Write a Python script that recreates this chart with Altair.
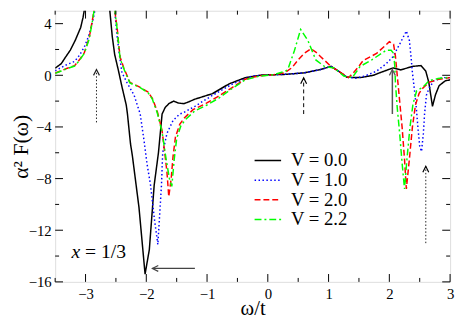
import altair as alt
import pandas as pd

series = ["V = 0.0", "V = 1.0", "V = 2.0", "V = 2.2"]
colors = ["#000000", "#0000ff", "#ff0000", "#00ff00"]
dashes = [[1, 0], [1.5, 2.5], [6, 3], [7, 3, 2, 3]]

# V = 0.0 (black, solid)
w_v00 = [-3.5, -3.4, -3.33, -3.25, -3.17, -3.08, -3.04, -3.0, -2.96,
         -2.64, -2.6, -2.56, -2.52, -2.46, -2.4, -2.37, -2.33, -2.31, -2.26, -2.23, -2.12, -2.02,
         -1.95, -1.87, -1.8, -1.77, -1.74, -1.69, -1.63, -1.55, -1.47, -1.38, -1.3, -1.2,
         -0.91, -0.64, -0.37, -0.1, 0.28, 0.6, 0.87, 1.04, 1.14, 1.3, 1.52, 1.74, 1.84,
         2.06, 2.19, 2.38, 2.52, 2.6, 2.65, 2.71, 2.76, 2.82, 2.92, 3.0]
f_v00 = [0.55, 0.9, 1.4, 1.95, 2.7, 3.7, 4.5, 5.6, 7.0,
         7.0, 5.0, 3.0, 1.6, 0.4, -0.9, -1.5, -2.3, -3.0, -5.3, -6.2, -10.25, -15.4,
         -13.5, -8.5, -6.0, -4.5, -3.0, -2.5, -2.2, -2.0, -2.15, -2.2, -2.05, -1.85,
         -1.42, -0.67, -0.18, 0.02, 0.07, 0.19, 0.45, 0.69, 0.4, -0.15, -0.18, 0.0, 0.19,
         0.57, 0.42, 0.69, 0.75, 0.32, -0.55, -2.4, -1.5, -0.8, -0.43, -0.35]

# V = 1.0 (blue, dotted)
w_v10 = [-3.5, -3.4, -3.3, -3.18, -3.1, -3.02, -2.96, -2.91, -2.86, -2.83, -2.8,
         -2.56, -2.52, -2.48, -2.44, -2.4, -2.32, -2.2, -2.1, -2.03, -1.99, -1.93, -1.87, -1.81,
         -1.75, -1.73, -1.66, -1.56, -1.45, -1.39, -1.2, -0.91, -0.58, -0.26, 0.0, 0.28, 0.6,
         0.87, 1.04, 1.14, 1.3, 1.45, 1.6, 1.79, 1.95, 2.06, 2.18, 2.28, 2.33, 2.36, 2.38, 2.41,
         2.44, 2.47, 2.5, 2.53, 2.56, 2.58, 2.61, 2.65, 2.73, 2.88, 3.0]
f_v10 = [0.35, 0.6, 0.85, 1.07, 1.55, 2.19, 2.9, 3.68, 4.67, 5.5, 7.0,
         7.0, 5.0, 3.0, 1.5, 0.2, -0.55, -1.55, -3.0, -5.3, -6.8, -8.5, -11.0, -13.1,
         -8.5, -6.0, -4.5, -3.5, -3.0, -2.9, -2.4, -1.55, -0.67, -0.05, 0.02, 0.07, 0.19,
         0.45, 0.69, 0.4, -0.15, -0.22, -0.05, 0.32, 0.9, 1.44, 2.5, 3.43, 2.69, 1.3, 0.2, -1.0,
         -2.3, -4.0, -5.5, -5.9, -4.5, -3.0, -1.55, -1.05, -0.43, -0.18, -0.18]

# V = 2.0 (red, dashed)
w_v20 = [-3.5, -3.4, -3.3, -3.18, -3.1, -3.02, -2.94, -2.89, -2.86, -2.83,
         -2.53, -2.51, -2.48, -2.45, -2.43, -2.37, -2.27, -2.1, -1.97, -1.9, -1.82, -1.74,
         -1.69, -1.66, -1.63, -1.59, -1.56, -1.52, -1.45, -1.37, -1.23, -1.01, -0.83, -0.58,
         -0.37, -0.15, 0.1, 0.28, 0.4, 0.5, 0.6, 0.71, 0.79, 0.87, 1.04, 1.2, 1.33, 1.41, 1.5,
         1.57, 1.79, 2.0, 2.07, 2.1, 2.13, 2.17, 2.21, 2.25, 2.28, 2.33, 2.38, 2.43, 2.49,
         2.55, 2.65, 2.82, 3.0]
f_v20 = [0.17, 0.35, 0.55, 0.75, 1.2, 1.75, 2.9, 4.2, 5.0, 7.0,
         7.0, 4.7, 3.7, 2.2, 1.4, 0.57, -0.55, -0.93, -1.3, -1.79, -2.79, -4.28,
         -6.27, -7.5, -9.4, -8.0, -6.3, -4.78, -3.8, -3.28, -2.66, -2.16, -1.67, -0.93,
         -0.3, -0.05, 0.05, 0.2, 0.6, 1.2, 1.7, 2.06, 1.8, 1.44, 0.69, 0.2, -0.18, 0.2, 0.7,
         1.15, 1.69, 2.6, 2.4, 1.5, 0.0, -2.0, -4.0, -6.5, -8.8, -6.5, -4.0, -2.3, -1.4,
         -1.0, -0.55, -0.3, -0.18]

# V = 2.2 (green, dash-dot)
w_v22 = [-3.5, -3.4, -3.3, -3.18, -3.1, -3.02, -2.94, -2.89, -2.86, -2.83,
         -2.53, -2.51, -2.48, -2.45, -2.43, -2.37, -2.27, -2.1, -1.97, -1.9, -1.82, -1.74,
         -1.68, -1.62, -1.58, -1.54, -1.5, -1.43, -1.35, -1.2, -1.0, -0.8, -0.58, -0.37,
         -0.15, 0.1, 0.28, 0.33, 0.44, 0.54, 0.66, 0.79, 0.93, 1.09, 1.25, 1.39, 1.52, 1.71,
         1.95, 2.03, 2.07, 2.09, 2.1, 2.13, 2.17, 2.21, 2.25, 2.29, 2.34, 2.39, 2.45, 2.55,
         2.65, 2.8, 3.0]
f_v22 = [0.15, 0.33, 0.52, 0.72, 1.15, 1.7, 2.8, 4.1, 5.0, 7.0,
         7.0, 4.7, 3.6, 2.1, 1.3, 0.5, -0.6, -0.95, -1.35, -1.85, -2.9, -4.4,
         -6.3, -8.0, -8.6, -6.5, -4.9, -3.9, -3.4, -2.75, -2.3, -1.75, -1.0, -0.35,
         -0.08, 0.05, 0.3, 0.45, 1.94, 3.55, 2.69, 1.19, 0.69, 0.57, -0.05, -0.18, 0.69, 1.19,
         1.94, 1.94, 1.7, 0.7, -0.55, -2.5, -4.5, -6.8, -8.8, -6.5, -4.0, -2.2, -1.2, -0.93,
         -0.43, -0.25, -0.15]

x_major = [-3, -2, -1, 0, 1, 2, 3]
x_minor = [-3.5, -2.5, -1.5, -0.5, 0.5, 1.5, 2.5]
y_major = [-16, -12, -8, -4, 0, 4]
y_minor = [-14, -10, -6, -2, 2]

# annotation arrows (vertical): position, start, tip
arrow_w = [-2.82, 0.59, 2.05, 2.60]
arrow_from = [-3.65, -3.0, -3.0, -13.0]
arrow_to = [0.45, -0.2, 0.45, -7.05]
# horizontal arrow pointing at the V = 0.0 minimum
harrow_v = -14.96
harrow_from = -1.20
harrow_to = -1.90

W, H = 402, 276
FONT = "Liberation Serif"

rows = []
for name, ws, fs in zip(series, [w_v00, w_v10, w_v20, w_v22], [f_v00, f_v10, f_v20, f_v22]):
    assert len(ws) == len(fs), name
    for a, b in zip(ws, fs):
        rows.append({"w": a, "v": b, "series": name})
df = pd.DataFrame(rows)

xs = alt.Scale(domain=[-3.5, 3], nice=False, zero=False)
ys = alt.Scale(domain=[-16, 5], nice=False, zero=False)

x_main = alt.Axis(values=x_major, orient="bottom", ticks=False, domain=False, grid=False,
                  labelFont=FONT, labelFontSize=15, labelColor="black", labelPadding=5,
                  labelFlush=False, labelOverlap=False,
                  title="ω/t", titleFont=FONT, titleFontSize=21, titleFontWeight="normal",
                  titleColor="black", titleY=33, titleBaseline="alphabetic")
y_main = alt.Axis(values=y_major, orient="left", ticks=False, domain=False, grid=False,
                  labelFont=FONT, labelFontSize=15, labelColor="black", labelPadding=4,
                  labelOverlap=False,
                  title="α² F(ω)", titleFont=FONT, titleFontSize=22, titleFontWeight="normal",
                  titleColor="black", titleX=-28, titleBaseline="alphabetic")

lines = alt.Chart(df).mark_line(clip=True, strokeWidth=1.5).encode(
    x=alt.X("w:Q", scale=xs, axis=x_main),
    y=alt.Y("v:Q", scale=ys, axis=y_main),
    color=alt.Color("series:N", scale=alt.Scale(domain=series, range=colors),
                    legend=alt.Legend(title=None, orient="none", legendX=207, legendY=143,
                                      labelFont=FONT, labelFontSize=19, labelColor="black",
                                      symbolType="M-2,0H2", symbolSize=182, symbolStrokeWidth=1.5,
                                      labelOffset=14, rowPadding=-2, padding=0)),
    strokeDash=alt.StrokeDash("series:N", scale=alt.Scale(domain=series, range=dashes)),
)

XN = alt.X("t:Q", scale=xs, axis=None)
YN = alt.Y("t:Q", scale=ys, axis=None)


def xticks(vals, y0, y1):
    return alt.Chart(pd.DataFrame({"t": vals})).mark_rule(color="black", strokeWidth=1).encode(
        x=XN, y=alt.value(y0), y2=alt.value(y1))


def yticks(vals, x0, x1):
    return alt.Chart(pd.DataFrame({"t": vals})).mark_rule(color="black", strokeWidth=1).encode(
        y=YN, x=alt.value(x0), x2=alt.value(x1))


tick_layers = [
    xticks(x_major, H, H - 8), xticks(x_minor, H, H - 4),
    xticks(x_major, 0, 8), xticks(x_minor, 0, 4),
    yticks(y_major, 0, 8), yticks(y_minor, 0, 4),
    yticks(y_major, W, W - 8), yticks(y_minor, W, W - 4),
]

XA = lambda f: alt.X(f, scale=xs, axis=None)
YA = lambda f: alt.Y(f, scale=ys, axis=None)

arr = pd.DataFrame({"w": arrow_w, "v0": arrow_from, "v1": arrow_to,
                    "kind": ["dot", "dash", "solid", "dot"]})
dot_shafts = alt.Chart(arr[arr.kind == "dot"]).mark_rule(strokeDash=[1.5, 2], color="#222", strokeWidth=1).encode(
    x=XA("w:Q"), y=YA("v0:Q"), y2="v1:Q")
dash_shafts = alt.Chart(arr[arr.kind == "dash"]).mark_rule(strokeDash=[4, 3], color="black", strokeWidth=1).encode(
    x=XA("w:Q"), y=YA("v0:Q"), y2="v1:Q")
solid_shafts = alt.Chart(arr[arr.kind == "solid"]).mark_rule(color="#555", strokeWidth=1.5).encode(
    x=XA("w:Q"), y=YA("v0:Q"), y2="v1:Q")
harr = pd.DataFrame({"w0": [harrow_from], "w1": [harrow_to], "v": [harrow_v]})
h_shaft = alt.Chart(harr).mark_rule(color="#444", strokeWidth=1.3).encode(
    x=XA("w0:Q"), x2="w1:Q", y=YA("v:Q"))

heads = pd.DataFrame({
    "w": arrow_w + [harrow_to],
    "v": arrow_to + [harrow_v],
    "ang": [0, 0, 0, 0, 270],
    "col": ["#222", "black", "#555", "black", "#444"],
})
head_marks = alt.Chart(heads).mark_point(shape="M-1,2L0,0L1,2", size=36, filled=False,
                                         strokeWidth=1.2, opacity=1).encode(
    x=XA("w:Q"), y=YA("v:Q"),
    angle=alt.Angle("ang:Q", scale=None),
    stroke=alt.Stroke("col:N", scale=None),
)

lbl = pd.DataFrame({"w": [-3.23], "v": [-13.7], "t": ["x"]})
lbl2 = pd.DataFrame({"w": [-3.01], "v": [-13.7], "t": ["= 1/3"]})
txt1 = alt.Chart(lbl).mark_text(font=FONT, fontSize=20, fontStyle="italic", align="left",
                                baseline="middle", color="black").encode(x=XA("w:Q"), y=YA("v:Q"), text="t:N")
txt2 = alt.Chart(lbl2).mark_text(font=FONT, fontSize=20, align="left",
                                 baseline="middle", color="black").encode(x=XA("w:Q"), y=YA("v:Q"), text="t:N")

chart = alt.layer(
    lines, *tick_layers,
    dot_shafts, dash_shafts, solid_shafts, h_shaft, head_marks, txt1, txt2
).resolve_axis(x="independent", y="independent").properties(
    width=W, height=H,
    padding={"left": 48, "top": 0, "right": 5, "bottom": 35},
    autosize=alt.AutoSizeParams(type="none"),
).configure_view(stroke="black", strokeWidth=2).configure(background="white")

chart.save("out.html", embed_options={"renderer": "svg", "actions": False})
